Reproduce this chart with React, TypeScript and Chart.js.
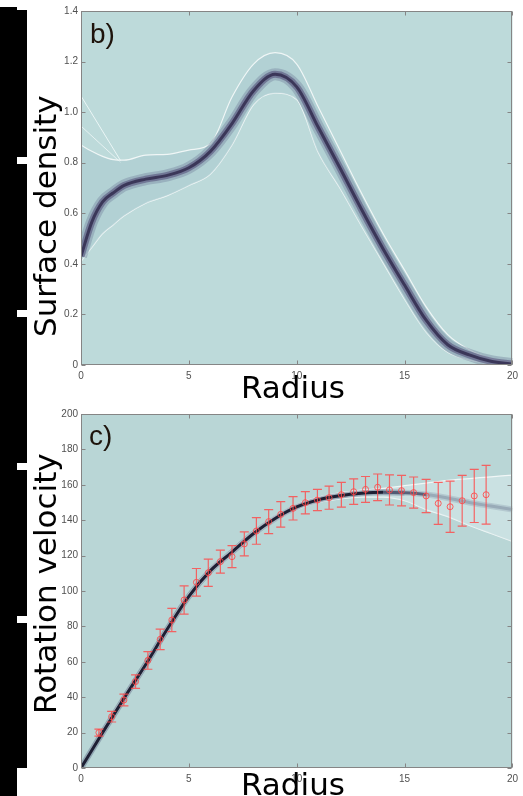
import React, { useEffect, useRef } from "react";
import { Chart, registerables } from "chart.js";

Chart.register(...registerables);

// ---------------- data ----------------
const densityRadius = [0, 0.5, 1, 1.5, 2, 3, 4, 5, 6, 7, 8, 9, 10, 11, 12, 13, 14, 15, 16, 17, 18, 19, 20];
const velocityRadius = [0, 1, 2, 3, 4, 5, 6, 7, 8, 9, 10, 11, 12, 13, 14, 15, 16, 17, 18, 19, 20];

// panel b) surface density posterior
const densityMedian = [0.43, 0.565, 0.645, 0.681, 0.71, 0.735, 0.75, 0.78, 0.845, 0.955, 1.085, 1.15, 1.1, 0.94, 0.78, 0.616, 0.46, 0.316, 0.177, 0.08, 0.04, 0.015, 0.004];
const densityUpper = [0.87, 0.845, 0.825, 0.812, 0.81, 0.83, 0.833, 0.85, 0.875, 1.06, 1.19, 1.235, 1.19, 1.02, 0.85, 0.68, 0.52, 0.375, 0.23, 0.12, 0.06, 0.025, 0.008];
const densityLower = [0.41, 0.465, 0.52, 0.555, 0.59, 0.64, 0.67, 0.71, 0.755, 0.87, 1.03, 1.075, 1.05, 0.84, 0.7, 0.55, 0.405, 0.26, 0.13, 0.05, 0.02, 0.005, 0];
const fanRadius = [0, 1.85];
const fanHigh = [1.064, 0.806];
const fanMid = [0.945, 0.8];

// panel c) rotation velocity posterior + observations
const velocityMedian = [0, 20, 39.5, 58.5, 78.5, 97, 111.5, 122, 132.5, 141, 147.5, 151.5, 153.8, 155.2, 155.8, 155.5, 154.5, 152.5, 150, 148, 146];
const velocityUpper = [0.8, 21.5, 41, 60, 80, 98.5, 113, 123.5, 134, 142.5, 149, 153, 155.5, 157, 158, 159.5, 161, 162.5, 163.5, 164.5, 165.5];
const velocityLower = [0, 18.5, 38, 57, 77, 95.5, 110, 120.5, 131, 139.5, 146, 150, 152, 153, 153, 151, 146, 142, 137, 132.5, 128];

const obsRadius = [0.83, 1.42, 1.99, 2.53, 3.1, 3.67, 4.21, 4.78, 5.35, 5.9, 6.46, 7.0, 7.57, 8.13, 8.7, 9.26, 9.83, 10.4, 10.96, 11.5, 12.07, 12.64, 13.19, 13.75, 14.3, 14.86, 15.42, 16.0, 16.56, 17.11, 17.67, 18.23, 18.78];
const obsVelocity = [20, 29, 38.4, 48.8, 60.8, 72.7, 83.6, 94.9, 104.9, 110.3, 116.6, 119.4, 126.6, 133.9, 139.2, 143.3, 146.7, 149.9, 151.4, 152.7, 154.4, 156.1, 157.4, 158.6, 157.1, 156.7, 155.6, 153.7, 149.5, 147.6, 151, 153.7, 154.4];
const obsError = [2, 3, 3.3, 3.8, 5, 5.8, 6.6, 8, 7.8, 7.7, 6.5, 6.2, 6.8, 7.5, 6.8, 7.2, 6.6, 6.3, 6, 6.5, 7, 7.2, 7.3, 7.5, 8.5, 8.6, 8.8, 9.4, 11.9, 14.5, 14.3, 15, 16.6];

// ticks
const radiusTicks = [0, 5, 10, 15, 20];
const densityTicks = [0, 0.2, 0.4, 0.6, 0.8, 1, 1.2, 1.4];
const velocityTicks = [0, 20, 40, 60, 80, 100, 120, 140, 160, 180, 200];

// text
const panelBLetter = "b)";
const panelCLetter = "c)";
const xTitle = "Radius";
const densityTitle = "Surface density";
const velocityTitle = "Rotation velocity";

// ---------------- helpers ----------------
const TICK_FONT = { family: '"Liberation Sans", Arial, sans-serif', size: 10 };
const TICK_COLOR = "#505050";
const BIG_FONT = '31px "DejaVu Sans", sans-serif';
const LETTER_FONT = '28px "Liberation Sans", Arial, sans-serif';

const xy = (xs: number[], ys: number[]) => xs.map((x, i) => ({ x, y: ys[i] }));

type Label = { text: string; x: number; y: number; font: string; color: string; rotate?: boolean };

function makePanelPlugin(background: string, labels: Label[], errorBars: boolean) {
  return {
    id: "panel",
    beforeDraw(chart: any) {
      const { ctx, chartArea: a } = chart;
      ctx.save();
      ctx.fillStyle = background;
      ctx.fillRect(a.left, a.top, a.right - a.left, a.bottom - a.top);
      ctx.restore();
    },
    afterDatasetsDraw(chart: any) {
      const { ctx, chartArea: a, scales } = chart;
      const xs = scales.x;
      const ys = scales.y;
      ctx.save();
      if (errorBars) {
        ctx.save();
        ctx.beginPath();
        ctx.rect(a.left, a.top, a.right - a.left, a.bottom - a.top);
        ctx.clip();
        ctx.strokeStyle = "rgba(255,72,72,0.82)";
        ctx.lineWidth = 1.2;
        for (let i = 0; i < obsRadius.length; i++) {
          const px = xs.getPixelForValue(obsRadius[i]);
          const pt = ys.getPixelForValue(obsVelocity[i] + obsError[i]);
          const pb = ys.getPixelForValue(obsVelocity[i] - obsError[i]);
          ctx.beginPath();
          ctx.moveTo(px, pt);
          ctx.lineTo(px, pb);
          ctx.moveTo(px - 4.5, pt);
          ctx.lineTo(px + 4.5, pt);
          ctx.moveTo(px - 4.5, pb);
          ctx.lineTo(px + 4.5, pb);
          ctx.stroke();
        }
        ctx.restore();
      }
      // frame
      const L = Math.round(a.left) + 0.5;
      const R = Math.round(a.right) - 0.5;
      const T = Math.round(a.top) + 0.5;
      const B = Math.round(a.bottom) - 0.5;
      ctx.strokeStyle = "#858585";
      ctx.lineWidth = 1;
      ctx.strokeRect(L, T, R - L, B - T);
      ctx.beginPath();
      for (const t of xs.ticks) {
        const px = Math.round(xs.getPixelForValue(t.value)) + 0.5;
        ctx.moveTo(px, B);
        ctx.lineTo(px, B - 4);
        ctx.moveTo(px, T);
        ctx.lineTo(px, T + 4);
      }
      for (const t of ys.ticks) {
        const py = Math.round(ys.getPixelForValue(t.value)) + 0.5;
        ctx.moveTo(L, py);
        ctx.lineTo(L + 4, py);
        ctx.moveTo(R, py);
        ctx.lineTo(R - 4, py);
      }
      ctx.stroke();
      ctx.restore();
    },
    afterDraw(chart: any) {
      const { ctx } = chart;
      for (const l of labels) {
        ctx.save();
        ctx.font = l.font;
        ctx.fillStyle = l.color;
        ctx.textAlign = "left";
        ctx.textBaseline = "alphabetic";
        ctx.translate(l.x, l.y);
        if (l.rotate) ctx.rotate(-Math.PI / 2);
        ctx.fillText(l.text, 0, 0);
        ctx.restore();
      }
    },
  };
}

function makeOptions(yMin: number, yMax: number, yTicks: number[], padTop: number, xAxisHeight: number) {
  return {
    responsive: false,
    animation: false as const,
    devicePixelRatio: 1,
    layout: { padding: { left: 0, right: 10, top: padTop, bottom: 0 } },
    plugins: { legend: { display: false }, tooltip: { enabled: false }, title: { display: false } },
    elements: { point: { radius: 0 }, line: { cubicInterpolationMode: "monotone" as const } },
    scales: {
      x: {
        type: "linear" as const,
        min: 0,
        max: 20,
        afterBuildTicks: (s: any) => {
          s.ticks = radiusTicks.map((value) => ({ value }));
        },
        afterFit: (s: any) => {
          s.height = xAxisHeight;
        },
        grid: { display: false, drawTicks: false },
        border: { display: false },
        ticks: { font: TICK_FONT, color: TICK_COLOR, padding: 5, maxRotation: 0, autoSkip: false },
      },
      y: {
        type: "linear" as const,
        min: yMin,
        max: yMax,
        afterBuildTicks: (s: any) => {
          s.ticks = yTicks.map((value) => ({ value }));
        },
        afterFit: (s: any) => {
          s.width = 81;
        },
        grid: { display: false, drawTicks: false },
        border: { display: false },
        ticks: { font: TICK_FONT, color: TICK_COLOR, padding: 3, autoSkip: false },
      },
    },
  };
}

export default function App() {
  const topRef = useRef<HTMLCanvasElement>(null);
  const botRef = useRef<HTMLCanvasElement>(null);

  useEffect(() => {
    const white = "rgba(242,248,248,0.95)";
    const top = new Chart(topRef.current as HTMLCanvasElement, {
      type: "line",
      data: {
        datasets: [
          { label: "median", data: xy(densityRadius, densityMedian), borderColor: "#3b3759", borderWidth: 3, pointRadius: 0, fill: false, order: 0 },
          { label: "inner", data: xy(densityRadius, densityMedian), borderColor: "rgba(95,96,132,0.7)", borderWidth: 7, pointRadius: 0, fill: false, order: 1 },
          { label: "halo", data: xy(densityRadius, densityMedian), borderColor: "rgba(128,146,168,0.5)", borderWidth: 12, pointRadius: 0, fill: false, order: 2 },
          { label: "upper", data: xy(densityRadius, densityUpper), borderColor: white, borderWidth: 1.2, pointRadius: 0, fill: "+1", backgroundColor: "rgba(170,202,207,0.55)", order: 3 },
          { label: "lower", data: xy(densityRadius, densityLower), borderColor: white, borderWidth: 1.2, pointRadius: 0, fill: false, order: 4 },
          { label: "fan1", data: xy(fanRadius, fanHigh), borderColor: "rgba(240,248,248,0.9)", borderWidth: 1, pointRadius: 0, fill: false, order: 5, cubicInterpolationMode: "default", tension: 0 },
          { label: "fan2", data: xy(fanRadius, fanMid), borderColor: "rgba(240,248,248,0.8)", borderWidth: 1, pointRadius: 0, fill: false, order: 6, cubicInterpolationMode: "default", tension: 0 },
        ],
      },
      options: makeOptions(0, 1.4, densityTicks, 11, 40) as any,
      plugins: [
        makePanelPlugin("#bddada", [
          { text: panelBLetter, x: 90, y: 43, font: LETTER_FONT, color: "#1e140c" },
          { text: xTitle, x: 241, y: 398, font: BIG_FONT, color: "#000" },
          { text: densityTitle, x: 56, y: 337, font: BIG_FONT, color: "#000", rotate: true },
        ], false) as any,
      ],
    });

    const bot = new Chart(botRef.current as HTMLCanvasElement, {
      type: "line",
      data: {
        datasets: [
          { label: "observed", data: xy(obsRadius, obsVelocity), showLine: false, pointRadius: 3, pointBorderColor: "rgba(255,72,72,0.85)", pointBackgroundColor: "rgba(0,0,0,0)", pointBorderWidth: 1, order: 0 },
          {
            label: "median", data: xy(velocityRadius, velocityMedian), borderColor: "#1e2034", borderWidth: 3, pointRadius: 0, fill: false, order: 1,
            segment: { borderColor: (c: any) => (c.p0.parsed.x >= 16 ? "rgba(120,135,155,0.45)" : c.p0.parsed.x >= 14 ? "rgba(50,56,86,0.7)" : undefined) },
          },
          {
            label: "halo", data: xy(velocityRadius, velocityMedian), borderColor: "rgba(80,92,122,0.4)", borderWidth: 6, pointRadius: 0, fill: false, order: 2,
            segment: { borderColor: (c: any) => (c.p0.parsed.x >= 15 ? "rgba(140,158,175,0.35)" : undefined) },
          },
          { label: "upper", data: xy(velocityRadius, velocityUpper), borderColor: white, borderWidth: 1.2, pointRadius: 0, fill: "+1", backgroundColor: "rgba(214,231,234,0.6)", order: 3 },
          { label: "lower", data: xy(velocityRadius, velocityLower), borderColor: white, borderWidth: 1.2, pointRadius: 0, fill: false, order: 4 },
        ],
      },
      options: makeOptions(0, 200, velocityTicks, 9, 28) as any,
      plugins: [
        makePanelPlugin("#b9d6d6", [
          { text: panelCLetter, x: 89, y: 40, font: LETTER_FONT, color: "#1e140c" },
          { text: xTitle, x: 241, y: 390, font: BIG_FONT, color: "#000" },
          { text: velocityTitle, x: 56, y: 309, font: BIG_FONT, color: "#000", rotate: true },
        ], true) as any,
      ],
    });

    return () => {
      top.destroy();
      bot.destroy();
    };
  }, []);

  const notch = (y: number) => (
    <div key={y} style={{ position: "absolute", left: 17, top: y, width: 11, height: 7, background: "#fff" }} />
  );

  return (
    <div style={{ position: "absolute", left: 0, top: 0, width: 523, height: 796, background: "#fff", overflow: "hidden" }}>
      <div style={{ position: "absolute", left: 0, top: 7, width: 17, height: 789, background: "#000" }} />
      <div style={{ position: "absolute", left: 17, top: 10, width: 10, height: 758, background: "#000" }} />
      {[157, 310, 463, 616].map(notch)}
      <canvas ref={topRef} width={523} height={405} style={{ position: "absolute", left: 0, top: 0 }} />
      <canvas ref={botRef} width={523} height={391} style={{ position: "absolute", left: 0, top: 405 }} />
    </div>
  );
}
